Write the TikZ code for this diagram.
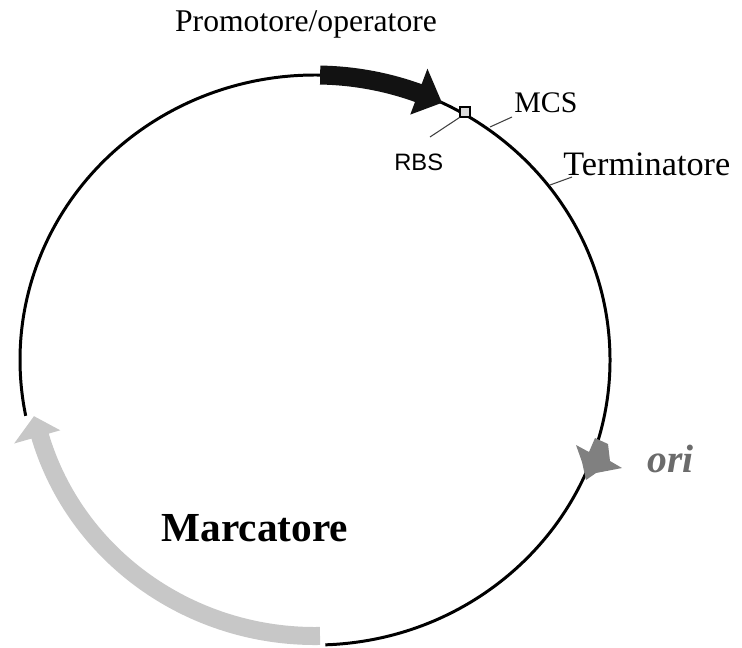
\documentclass[tikz,border=0pt]{standalone}
\usepackage{fontspec}
\setmainfont{Liberation Serif}
\setsansfont{Liberation Sans}
\begin{document}
\begin{tikzpicture}[x=0.02cm, y=0.02cm,
	etichetta/.style={inner sep=0pt, font=\fontsize{17pt}{20pt}\selectfont},
	guida/.style={black!75, line width=0.6pt}]
	\useasboundingbox (0,0) rectangle (742,647);
	\begin{scope}[shift={(315,287)}]
		% plasmide
		\draw[line width=1.7pt] (-88:295 and 285) arc[start angle=-88, end angle=191.3, x radius=295, y radius=285];
		% promotore
		\fill[black!93] (89:304.5 and 294.5) arc[start angle=89, end angle=69.5, x radius=304.5, y radius=294.5]
			-- (69.5:321 and 311) -- (64.5:295 and 285) -- (69.5:272 and 262)
			-- (69.5:285.5 and 275.5) arc[start angle=69.5, end angle=89, x radius=285.5, y radius=275.5] -- cycle;
		% marcatore
		\fill[black!22] (271:295 and 285) arc[start angle=271, end angle=196, x radius=295, y radius=285]
			-- (196:313 and 303) -- (191.7:287 and 277) -- (196:265 and 255)
			-- (196:277 and 267) arc[start angle=196, end angle=271, x radius=277, y radius=267] -- cycle;
	\end{scope}
	% ori
	\fill[black!50] (576,202) -- (589,195) -- (595,209) -- (608,203) -- (610,186) -- (622,179)
		-- (596,174) -- (586,167) -- (582,185) -- cycle;
	% RBS e MCS
	\node[draw, fill=black!15, minimum size=5.7pt, inner sep=0pt, line width=0.6pt] (sito) at (465,535) {};
	\coordinate (rbs-a) at (430,510);
	\coordinate (mcs-a) at (490,520);
	\coordinate (mcs-b) at (512,530);
	\coordinate (term-a) at (550,462);
	\coordinate (term-b) at (572,470);
	\draw[guida] (sito.south west) -- (rbs-a);
	\draw[guida] (mcs-a) -- (mcs-b);
	\draw[guida] (term-a) -- (term-b);
	% etichette
	\node[etichetta, font=\fontsize{18pt}{20pt}\selectfont, anchor=base] (promotore) at (306,615) {Promotore/operatore};
	\node[etichetta, anchor=base west] (mcs) at (514,535) {MCS};
	\node[etichetta, font=\sffamily\fontsize{13.5pt}{16pt}\selectfont, anchor=base west] (rbs) at (394,477) {RBS};
	\node[etichetta, font=\fontsize{19.5pt}{22pt}\selectfont, anchor=base west] (term) at (563,472) {Terminatore};
	\node[etichetta, font=\bfseries\itshape\fontsize{22.5pt}{26pt}\selectfont, text=black!58, anchor=base west] (ori) at (647,175) {ori};
	\node[etichetta, font=\bfseries\fontsize{23.5pt}{28pt}\selectfont, anchor=base] (marcatore) at (255,106) {Marcatore};
\end{tikzpicture}
\end{document}
